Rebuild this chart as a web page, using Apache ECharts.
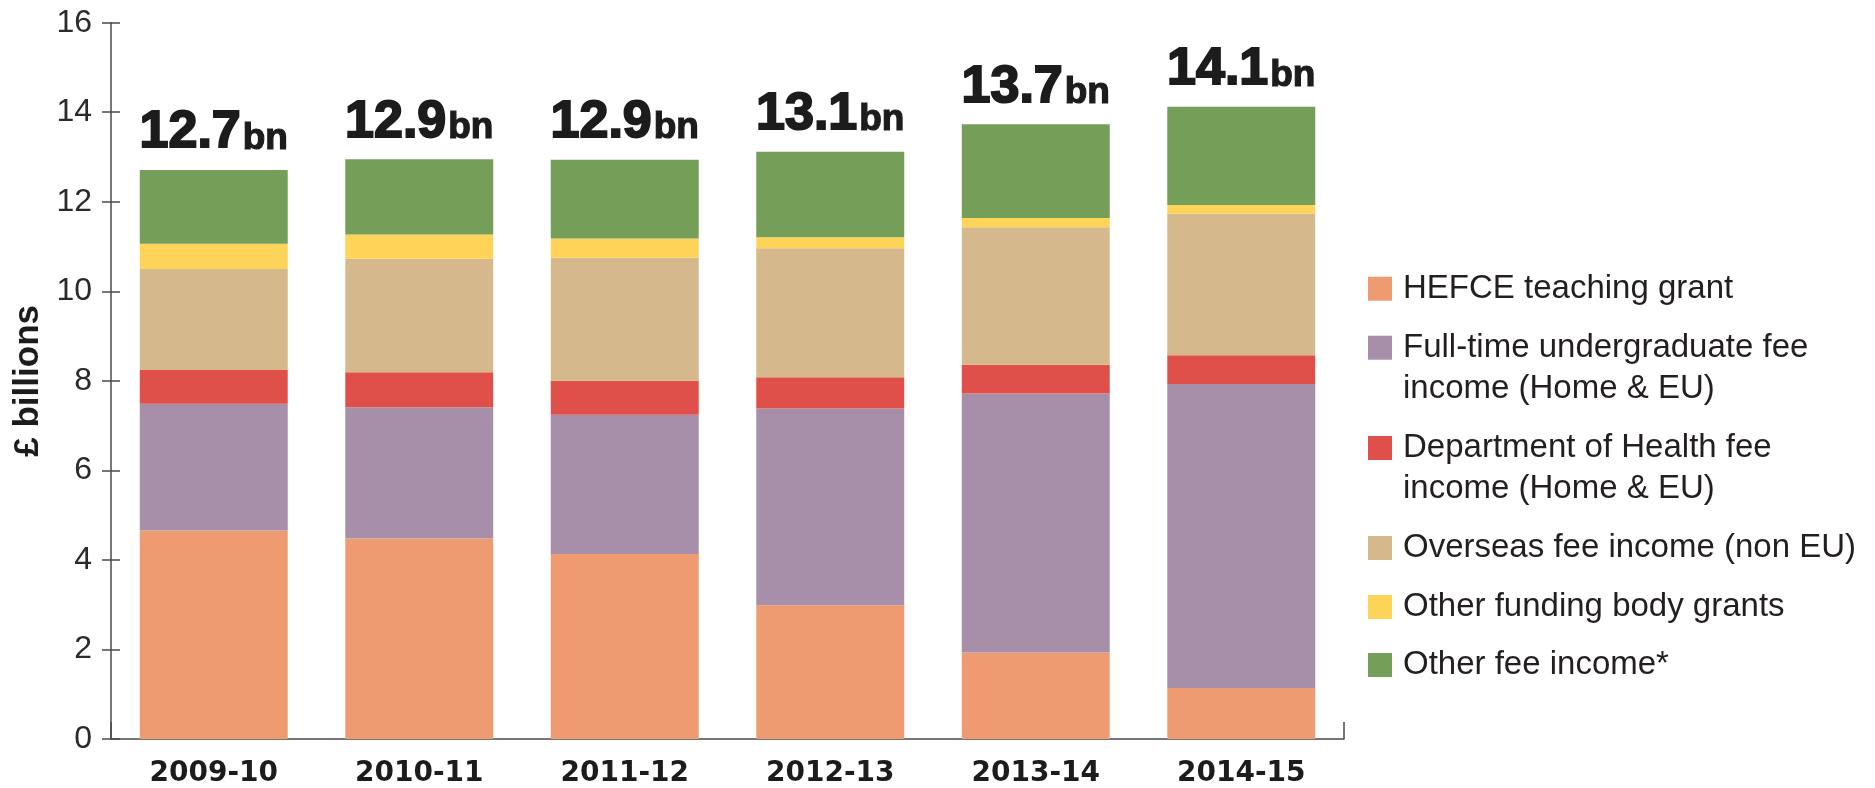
<!DOCTYPE html>
<html>
<head>
<meta charset="utf-8">
<script src="https://cdn.jsdelivr.net/npm/echarts@6/dist/echarts.min.js"></script>
<style>
  html, body { margin: 0; padding: 0; background: #ffffff; }
  #chart { width: 1875px; height: 788px; }
</style>
</head>
<body>
<div id="chart"></div>
<script>
// ---- Data ----
const years = ['2009-10', '2010-11', '2011-12', '2012-13', '2013-14', '2014-15'];
const hefceTeachingGrant = [4.66, 4.48, 4.13, 2.99, 1.93, 1.14];
const fullTimeUGFee = [2.83, 2.93, 3.11, 4.39, 5.79, 6.79];
const deptHealthFee = [0.75, 0.78, 0.76, 0.70, 0.64, 0.64];
const overseasFee = [2.26, 2.54, 2.75, 2.88, 3.07, 3.17];
const otherFundingGrants = [0.56, 0.54, 0.43, 0.25, 0.21, 0.19];
const otherFeeIncome = [1.65, 1.68, 1.76, 1.91, 2.09, 2.19];
const totalLabels = [12.7, 12.9, 12.9, 13.1, 13.7, 14.1];
const seriesNames = [
  'HEFCE teaching grant',
  'Full-time undergraduate fee income (Home & EU)',
  'Department of Health fee income (Home & EU)',
  'Overseas fee income (non EU)',
  'Other funding body grants',
  'Other fee income*'
];
const legendLabels = [
  'HEFCE teaching grant',
  'Full-time undergraduate fee\nincome (Home & EU)',
  'Department of Health fee\nincome (Home & EU)',
  'Overseas fee income (non EU)',
  'Other funding body grants',
  'Other fee income*'
];
const yTicks = { min: 0, max: 16, interval: 2 };

const colors = ['#EE9B72', '#A78FA9', '#DF504B', '#D5B98C', '#FDD458', '#759E59'];
const seriesData = [hefceTeachingGrant, fullTimeUGFee, deptHealthFee, overseasFee, otherFundingGrants, otherFeeIncome];

const chart = echarts.init(document.getElementById('chart'), null, { renderer: 'canvas' });

const series = seriesData.map((d, i) => {
  const s = {
    name: seriesNames[i],
    type: 'bar',
    stack: 'total',
    barWidth: '72%',
    data: d,
    itemStyle: { color: colors[i] },
    emphasis: { disabled: true }
  };
  if (i === seriesData.length - 1) {
    s.label = {
      show: true,
      position: 'top',
      distance: 11,
      formatter: (p) => '{v|' + totalLabels[p.dataIndex].toFixed(1) + '}{u|bn}',
      rich: {
        v: { fontFamily: 'Liberation Sans', fontWeight: 'bold', fontSize: 52, lineHeight: 52,
             color: '#1c1c1c', verticalAlign: 'bottom', textBorderColor: '#1c1c1c', textBorderWidth: 2 },
        u: { fontFamily: 'Liberation Sans', fontWeight: 'bold', fontSize: 37, lineHeight: 37,
             color: '#1c1c1c', verticalAlign: 'bottom', textBorderColor: '#1c1c1c', textBorderWidth: 1.2,
             padding: [0, 0, 2, 2] }
      }
    };
  }
  return s;
});

// one legend per item so icons align with the first text line
const legendLH = 41;
const legendTops = [288.7, 347.7, 448, 548, 607, 665];
const legends = seriesNames.map((n, i) => {
  const twoLine = legendLabels[i].indexOf('\n') >= 0;
  return {
    data: [n],
    orient: 'vertical',
    left: 1368,
    top: twoLine ? legendTops[i] - 1.5 * legendLH : legendTops[i] - 0.5 * legendLH,
    padding: 0,
    itemWidth: 24,
    itemHeight: 24,
    icon: 'rect',
    selectedMode: false,
    formatter: () => (twoLine ? ' \n' : '') + legendLabels[i],
    textStyle: {
      fontFamily: 'Liberation Sans',
      fontSize: 33,
      lineHeight: legendLH,
      color: '#231F20',
      padding: [0, 0, 0, 6]
    }
  };
});

const option = {
  animation: false,
  backgroundColor: '#ffffff',
  grid: { left: 111, right: 531, top: 22.7, bottom: 46.3, containLabel: false },
  legend: legends,
  xAxis: {
    type: 'category',
    data: years,
    axisLine: { show: true, lineStyle: { color: '#4a4a4a', width: 1.5 } },
    axisTick: {
      show: true,
      inside: true,
      length: 17,
      interval: (idx) => idx === 0,
      lineStyle: { color: '#4a4a4a', width: 1.5 }
    },
    axisLabel: {
      margin: 21,
      fontFamily: 'DejaVu Sans',
      fontWeight: 'bold',
      fontSize: 28,
      color: '#1c1c1c'
    },
    splitLine: { show: false }
  },
  yAxis: [
    {
      type: 'value',
      min: yTicks.min, max: yTicks.max, interval: yTicks.interval,
      name: '£ billions',
      nameLocation: 'middle',
      nameGap: 58,
      nameRotate: 90,
      nameTextStyle: { fontFamily: 'Liberation Sans', fontWeight: 'bold', fontSize: 35, color: '#1c1c1c' },
      axisLine: { show: true, lineStyle: { color: '#4a4a4a', width: 1.5 } },
      axisTick: { show: true, inside: false, length: 9, lineStyle: { color: '#4a4a4a', width: 1.5 } },
      axisLabel: { margin: 19, fontFamily: 'Liberation Sans', fontSize: 32, color: '#2a2a2a' },
      splitLine: { show: false }
    },
    {
      type: 'value',
      position: 'left',
      min: yTicks.min, max: yTicks.max, interval: yTicks.interval,
      axisLine: { show: false },
      axisTick: { show: true, inside: true, length: 9, lineStyle: { color: '#4a4a4a', width: 1.5 } },
      axisLabel: { show: false },
      splitLine: { show: false }
    }
  ],
  series: series
};

chart.setOption(option);
</script>
</body>
</html>
